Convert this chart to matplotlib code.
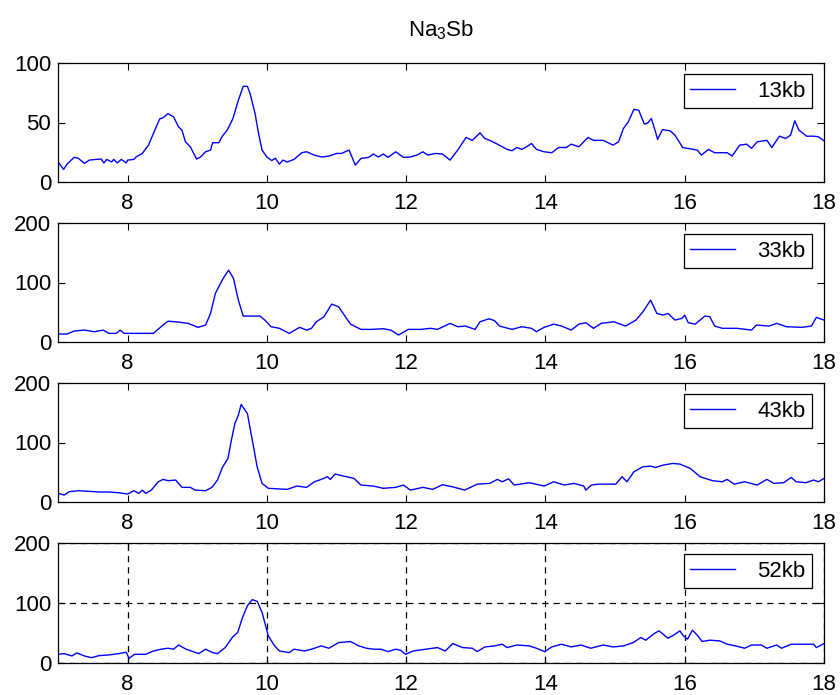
import matplotlib
matplotlib.use("Agg")
import matplotlib.pyplot as plt

plt.rcParams['font.family'] = ['Liberation Sans', 'DejaVu Sans']
plt.rcParams['mathtext.fontset'] = 'custom'
plt.rcParams['mathtext.rm'] = 'Liberation Sans'
plt.rcParams['mathtext.it'] = 'Liberation Sans:italic'

title = "Na$_3$Sb"
labels = ["13kb", "33kb", "43kb", "52kb"]
ylims = [100, 200, 200, 200]
yticks_list = [[0, 50, 100], [0, 100, 200], [0, 100, 200], [0, 100, 200]]
xticks = [8, 10, 12, 14, 16, 18]

x13 = [7.0, 7.08, 7.13, 7.23, 7.29, 7.38, 7.45, 7.55, 7.62, 7.66, 7.7, 7.77, 7.8, 7.85, 7.91, 7.98,
       8.0, 8.09, 8.12, 8.21, 8.3, 8.37, 8.46, 8.51, 8.58, 8.66, 8.73, 8.78, 8.83, 8.9, 8.99, 9.04,
       9.12, 9.19, 9.22, 9.31, 9.36, 9.43, 9.51, 9.59, 9.66, 9.72, 9.76, 9.83, 9.88, 9.93, 10.0,
       10.07, 10.12, 10.18, 10.23, 10.29, 10.39, 10.5, 10.57, 10.68, 10.79, 10.89, 11.0, 11.07,
       11.18, 11.27, 11.35, 11.46, 11.53, 11.6, 11.67, 11.74, 11.85, 11.96, 12.06, 12.17, 12.24,
       12.31, 12.42, 12.52, 12.63, 12.74, 12.86, 12.95, 13.06, 13.13, 13.2, 13.31, 13.45, 13.52,
       13.59, 13.66, 13.73, 13.8, 13.87, 13.98, 14.09, 14.19, 14.3, 14.37, 14.48, 14.61, 14.69,
       14.83, 14.97, 15.05, 15.12, 15.19, 15.27, 15.34, 15.42, 15.47, 15.52, 15.58, 15.61, 15.68,
       15.79, 15.86, 15.97, 16.07, 16.18, 16.24, 16.34, 16.43, 16.61, 16.68, 16.79, 16.89, 16.96,
       17.04, 17.18, 17.25, 17.36, 17.45, 17.52, 17.58, 17.64, 17.75, 17.85, 17.92, 18.0]
y13 = [17, 10.6, 15, 20.7, 20, 15.6, 18.4, 19, 19.3, 16, 19, 16.8, 19, 16, 19, 16,
       18.4, 19, 21, 24, 31, 40.8, 53, 54, 57.5, 54.7, 46.4, 43.6, 33.8, 29.6, 19.3, 20.7,
       25.4, 26.8, 33, 33, 38.5, 43.6, 53, 68.7, 80.4, 80.4, 74, 57.5, 40.8, 26.8, 21,
       18, 20, 15, 18.4, 16.8, 19, 24.6, 25.4, 22.6, 21, 21.8, 24, 24,
       26.8, 14.2, 19.8, 20.7, 23.5, 21, 23.5, 20.7, 25.4, 20.7, 21, 23, 25.4,
       22.6, 24, 23.5, 18.4, 26.8, 37.4, 35, 41.3, 36.6, 35, 31.8, 27.4, 26.3,
       29, 27.4, 29.6, 32.4, 27.4, 25.4, 24.6, 29, 29, 31.8, 29.6, 37.4, 35,
       35, 31, 33.8, 45, 50.6, 61, 60.3, 48.6, 49.7, 53.4, 42.2, 35.8, 44,
       43, 39.4, 29, 28, 26.8, 22.6, 27.4, 24.6, 24.6, 21.8, 31, 31.8, 28.2,
       33.8, 35, 29, 38.5, 36.6, 39.4, 51.4, 43.6, 38.5, 38.5, 38, 34.6]

x33 = [7.0, 7.13, 7.23, 7.38, 7.52, 7.65, 7.73, 7.84, 7.89, 7.95, 8.37, 8.48, 8.58, 8.73, 8.87,
       9.01, 9.12, 9.19, 9.26, 9.37, 9.45, 9.52, 9.59, 9.66, 9.9, 9.97, 10.06, 10.18, 10.32, 10.47,
       10.57, 10.64, 10.71, 10.82, 10.93, 11.03, 11.1, 11.2, 11.35, 11.5, 11.67, 11.78, 11.89,
       12.03, 12.21, 12.35, 12.45, 12.63, 12.74, 12.85, 12.99, 13.06, 13.19, 13.27, 13.34, 13.52,
       13.66, 13.8, 13.87, 13.98, 14.12, 14.23, 14.37, 14.48, 14.58, 14.69, 14.8, 14.98, 15.15,
       15.3, 15.4, 15.51, 15.6, 15.69, 15.76, 15.86, 15.96, 16.0, 16.05, 16.15, 16.29, 16.36,
       16.43, 16.54, 16.75, 16.96, 17.03, 17.21, 17.32, 17.46, 17.68, 17.82, 17.89, 18.0]
y33 = [13.4, 13.4, 18.4, 20, 17.3, 20, 14.5, 14.5, 20, 14.5, 14.5, 25.7, 35, 33.5, 31.3,
       24.6, 28.5, 48, 81.6, 106.7, 120.7, 106.7, 70.4, 43.6, 43.6, 36.9, 25.7, 23, 14.5, 24.6,
       20, 23, 34, 42.5, 63.7, 59.2, 47, 30, 21.2, 21.2, 22.3, 20, 11.7,
       21.2, 21.2, 23, 21.2, 31.3, 25.7, 26.8, 21.2, 34, 39, 35.8, 26.8, 21.2,
       25.7, 23, 17.3, 24.6, 30, 26.8, 20, 30, 32.4, 23, 31.3, 34, 26.8,
       36.9, 50.8, 70.4, 48, 45.3, 48, 36.9, 39.7, 45.3, 32.4, 30, 43.6, 42.5,
       26.8, 23, 23, 20, 28.5, 26.8, 31.3, 25.7, 24.6, 26.8, 41.3, 36.9]

x43 = [7.0, 7.09, 7.16, 7.3, 7.45, 7.59, 7.73, 7.87, 8.0, 8.09, 8.16, 8.21, 8.26, 8.34, 8.44,
       8.51, 8.58, 8.69, 8.78, 8.9, 8.97, 9.12, 9.21, 9.29, 9.36, 9.44, 9.49, 9.54, 9.59, 9.63,
       9.72, 9.79, 9.86, 9.93, 10.02, 10.29, 10.43, 10.57, 10.68, 10.78, 10.87, 10.91, 10.98,
       11.1, 11.25, 11.35, 11.53, 11.67, 11.85, 11.96, 12.06, 12.24, 12.38, 12.52, 12.66, 12.84,
       13.02, 13.2, 13.31, 13.38, 13.47, 13.55, 13.77, 13.98, 14.12, 14.27, 14.41, 14.55, 14.58,
       14.66, 14.76, 15.01, 15.1, 15.17, 15.27, 15.4, 15.51, 15.58, 15.69, 15.83, 15.93, 16.08,
       16.22, 16.4, 16.54, 16.61, 16.71, 16.86, 17.04, 17.18, 17.28, 17.42, 17.53, 17.6, 17.74,
       17.85, 17.92, 18.0]
y43 = [14.5, 11.7, 17.3, 19, 17.9, 16.8, 16.8, 15.6, 13.4, 19, 14.5, 20, 14.5, 20, 34,
       38, 35.8, 36.9, 24.6, 24.6, 20, 19, 24.6, 36.9, 58, 73, 104, 132, 146, 164,
       148.6, 104, 59, 31.3, 23, 21.2, 26.8, 24.6, 34, 38, 42.5, 38, 47,
       43.6, 39.7, 28.5, 26.8, 23, 24.6, 28.5, 20, 24.6, 21.2, 29, 25.7, 20,
       30, 31.3, 38, 34, 39, 28.5, 32.4, 26.8, 34, 28.5, 31.3, 26.8, 20,
       28.5, 30, 30, 42.5, 34, 50.8, 59.2, 60.3, 58, 62, 64.8, 63.7, 56.4,
       42.5, 35.8, 34, 38, 30, 34, 28.5, 38, 31.3, 32.4, 41.3, 34, 32.4,
       36.9, 34, 39.7]

x52 = [7.0, 7.09, 7.2, 7.27, 7.38, 7.48, 7.59, 7.73, 7.87, 7.98, 8.02, 8.1, 8.26, 8.37, 8.48,
       8.58, 8.66, 8.73, 8.84, 8.94, 9.02, 9.12, 9.22, 9.29, 9.4, 9.51, 9.58, 9.65, 9.72, 9.79,
       9.86, 9.93, 10.02, 10.11, 10.18, 10.32, 10.39, 10.54, 10.64, 10.78, 10.89, 11.03, 11.2,
       11.32, 11.43, 11.53, 11.64, 11.74, 11.85, 11.92, 11.99, 12.1, 12.28, 12.45, 12.56, 12.67,
       12.81, 12.95, 13.02, 13.13, 13.27, 13.38, 13.45, 13.59, 13.77, 13.87, 13.99, 14.09, 14.23,
       14.37, 14.51, 14.65, 14.83, 14.97, 15.12, 15.26, 15.37, 15.44, 15.56, 15.63, 15.69, 15.76,
       15.84, 15.93, 15.98, 16.04, 16.11, 16.18, 16.25, 16.36, 16.5, 16.61, 16.73, 16.86, 16.96,
       17.1, 17.18, 17.32, 17.39, 17.53, 17.71, 17.85, 17.89, 18.0]
y52 = [14.5, 15.6, 11.7, 16.8, 11.7, 8.9, 12.3, 13.4, 15.6, 17.9, 7.8, 14.5, 14.5, 20, 23,
       24.6, 23, 30, 23, 19, 15.6, 23, 17.3, 15.6, 25.7, 43.6, 50.8, 76, 95.5, 105.6,
       102.8, 84.4, 45.3, 28.5, 20, 17.3, 23, 20, 23, 28.5, 24.6, 34, 35.8,
       28.5, 24.6, 23, 23, 19, 23, 21.2, 14.5, 20, 23, 25.7, 20, 32.4,
       25.7, 24.6, 19, 26.8, 28.5, 31.3, 25.7, 30, 28.5, 24.6, 19, 26.8, 31.3,
       26.8, 30, 24.6, 30, 26.8, 28.5, 34, 42.5, 38, 49, 53.6, 48, 41.3,
       46.4, 53.6, 45.3, 39.7, 54.7, 46.4, 35.8, 38, 36.9, 31.3, 28.5, 24.6, 30,
       30, 24.6, 30, 24.6, 31.3, 31.3, 31.3, 25.7, 32.4]

xs = [x13, x33, x43, x52]
ys = [y13, y33, y43, y52]

fig = plt.figure(figsize=(8.4, 6.95), dpi=100)
W, H = 840.0, 695.0
left, right = 58, 824
tops = [63, 223, 383, 543]
bots = [182, 342, 502, 663]

for i in range(4):
    ax = fig.add_axes([left / W, 1 - bots[i] / H, (right - left) / W, (bots[i] - tops[i]) / H])
    ax.plot(xs[i], ys[i], color=(0, 0, 1), lw=1.0, label=labels[i])
    ax.set_xlim(7, 18)
    ax.set_ylim(0, ylims[i])
    ax.set_xticks(xticks)
    ax.set_yticks(yticks_list[i])
    ax.tick_params(direction='in', length=5, width=0.8, top=True, right=True,
                   labelsize=16, colors='black')
    ax.tick_params(axis='x', pad=8)
    ax.tick_params(axis='y', pad=5)
    for s in ax.spines.values():
        s.set_linewidth(0.9)
        s.set_color('black')
    if i == 3:
        ax.grid(True, color='black', linestyle=(0, (5, 4)), linewidth=0.9)
    ax_w = right - left
    ax_h = bots[i] - tops[i]
    leg = ax.legend(loc='upper right', bbox_to_anchor=(1 - 12 / ax_w, 1 - 11 / ax_h),
                    borderaxespad=0, fontsize=16, frameon=True, fancybox=False,
                    edgecolor='black', framealpha=1, handlelength=2.0,
                    handletextpad=1.0, borderpad=0.3)
    leg.get_frame().set_linewidth(0.9)

fig.text(441 / W, 1 - 30 / H, title, ha='center', va='center', fontsize=16)

fig.savefig("out.png", dpi=100)
